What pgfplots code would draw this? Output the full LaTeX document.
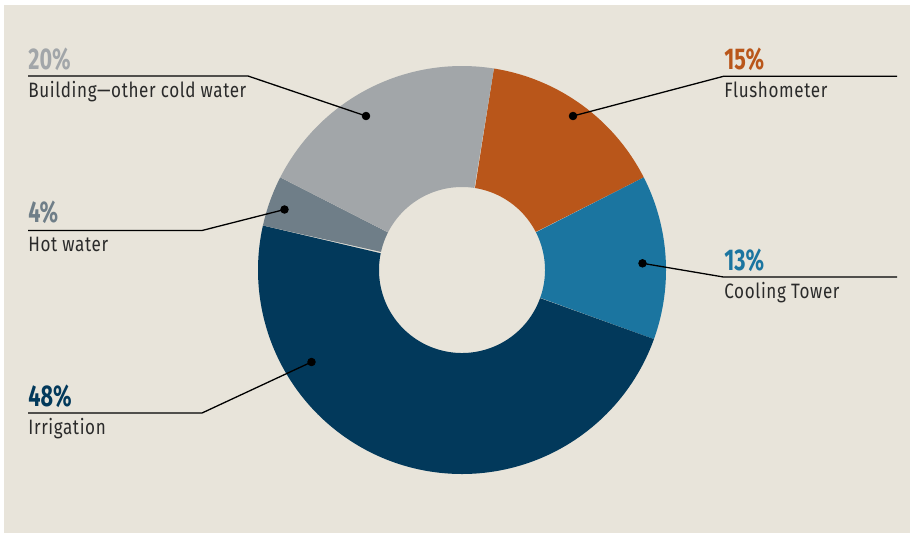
\documentclass[border=0pt]{standalone}
\usepackage{pgfplots}
\pgfplotsset{compat=1.18}
\usepackage{fontspec}
\setmainfont{Fira Sans}
\newfontfamily\pctfont[FakeStretch=0.72]{Fira Sans}
\newfontfamily\lblfont[FakeStretch=0.82,LetterSpace=3]{Fira Sans}
\definecolor{bg}{HTML}{E8E4DA}
\definecolor{cflush}{HTML}{B9561A}
\definecolor{ccool}{HTML}{1B75A0}
\definecolor{cirr}{HTML}{02395B}
\definecolor{chot}{HTML}{6F7E88}
\definecolor{cbld}{HTML}{A2A6A9}
\definecolor{ctext}{HTML}{2A2A2A}
% #1 = share of the slices before (percent), #2 = share (percent), #3 = colour
\newcommand\donutslice[3]{%
  \addplot[fill=#3, draw=none, domain=0:2, samples=361, variable=\t]
    ({462 + ((\t<=1) ? 204 : 83)*cos(81 - 3.6*(#1 + ((\t<=1) ? #2*\t : #2*(2-\t))))},
     {270 - ((\t<=1) ? 204 : 83)*sin(81 - 3.6*(#1 + ((\t<=1) ? #2*\t : #2*(2-\t))))});
}
\begin{document}
\begin{tikzpicture}
\begin{axis}[x=0.5pt, y=0.5pt, xmin=0, xmax=910, ymin=0, ymax=532,
  y dir=reverse, hide axis, clip=false]
\fill[white] (axis cs:0,0) rectangle (axis cs:910,532);
\fill[bg] (axis cs:4,5) rectangle (axis cs:930,550);
\coordinate (BL) at (axis cs:0,532);
\coordinate (TR) at (axis cs:910,0);
% shares (percent), clockwise from the top
\donutslice{0}{15}{cflush}   % Flushometer
\donutslice{15}{13}{ccool}   % Cooling Tower
\donutslice{28}{48}{cirr}    % Irrigation
\donutslice{76}{4}{chot}     % Hot water
\donutslice{80}{20}{cbld}    % Building - other cold water
% leader lines
\addplot[black, line width=0.65pt] coordinates {(28,76) (248,76) (366,116)};
\addplot[black, line width=0.65pt] coordinates {(28,230.5) (202,230.5) (284.5,209.5)};
\addplot[black, line width=0.65pt] coordinates {(28,413) (202,413) (311.5,362)};
\addplot[black, line width=0.65pt] coordinates {(897,76.3) (723.5,76.3) (573,116)};
\addplot[black, line width=0.65pt] coordinates {(897,277) (723.5,277) (642.5,263.3)};
% dots
\addplot[only marks, mark=*, mark size=1.9pt, black] coordinates
  {(366,116) (284.5,209.5) (311.5,362) (573,116) (642.5,263.3)};
% labels
\node[anchor=base west, inner sep=0pt, text=cbld] at (axis cs:28,69) {\pctfont\bfseries\fontsize{15}{15}\selectfont 20\%};
\node[anchor=base west, inner sep=0pt, text=ctext] at (axis cs:28,97.7) {\lblfont\fontsize{10.4}{12}\selectfont Building—other cold water};
\node[anchor=base west, inner sep=0pt, text=chot] at (axis cs:28,222.5) {\pctfont\bfseries\fontsize{15}{15}\selectfont 4\%};
\node[anchor=base west, inner sep=0pt, text=ctext] at (axis cs:28,251) {\lblfont\fontsize{10.4}{12}\selectfont Hot water};
\node[anchor=base west, inner sep=0pt, text=cirr] at (axis cs:28,406.5) {\pctfont\bfseries\fontsize{15}{15}\selectfont 48\%};
\node[anchor=base west, inner sep=0pt, text=ctext] at (axis cs:28,434) {\lblfont\fontsize{10.4}{12}\selectfont Irrigation};
\node[anchor=base west, inner sep=0pt, text=cflush] at (axis cs:724,69.3) {\pctfont\bfseries\fontsize{15}{15}\selectfont 15\%};
\node[anchor=base west, inner sep=0pt, text=ctext] at (axis cs:724,97.7) {\lblfont\fontsize{10.4}{12}\selectfont Flushometer};
\node[anchor=base west, inner sep=0pt, text=ccool] at (axis cs:724,270) {\pctfont\bfseries\fontsize{15}{15}\selectfont 13\%};
\node[anchor=base west, inner sep=0pt, text=ctext] at (axis cs:724,298.3) {\lblfont\fontsize{10.4}{12}\selectfont Cooling Tower};
\end{axis}
\pgfresetboundingbox
\useasboundingbox (BL) rectangle (TR);
\end{tikzpicture}
\end{document}
